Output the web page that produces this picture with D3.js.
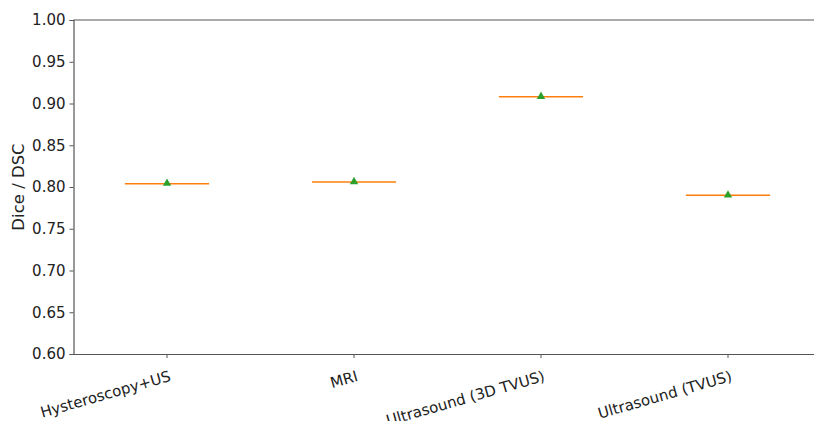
<!DOCTYPE html>
<meta charset="utf-8">
<style>
body { margin: 0; background: #fff; }
text { font-family: "DejaVu Sans", sans-serif; fill: #222; }
.axis path, .axis line { stroke: #555; }
</style>
<svg width="814" height="421"></svg>
<script src="https://d3js.org/d3.v7.min.js"></script>
<script>

var categories = ["Hysteroscopy+US", "MRI", "Ultrasound (3D TVUS)", "Ultrasound (TVUS)"];
var medians = [0.804, 0.806, 0.908, 0.790];
var means = [0.804, 0.806, 0.908, 0.790];
var yTicks = [0.60, 0.65, 0.70, 0.75, 0.80, 0.85, 0.90, 0.95, 1.00];

var svg = d3.select("svg");
var margin = {left: 73.5, top: 20, bottom: 67},
    plotW = 748,
    height = +svg.attr("height");

var x = d3.scaleBand()
    .domain(categories)
    .range([margin.left, margin.left + plotW]);

var y = d3.scaleLinear()
    .domain([0.6, 1.0])
    .range([height - margin.bottom, margin.top]);

// top spine
svg.append("line")
    .attr("x1", margin.left).attr("x2", margin.left + plotW)
    .attr("y1", y(1.0)).attr("y2", y(1.0))
    .attr("stroke", "#555").attr("stroke-width", 1.2);

var yAxis = svg.append("g")
    .attr("class", "axis")
    .attr("transform", "translate(" + margin.left + ",0)")
    .call(d3.axisLeft(y).tickValues(yTicks).tickFormat(d3.format(".2f")).tickSize(4).tickPadding(4));
yAxis.select(".domain").attr("stroke-width", 1.2);
yAxis.selectAll("text").style("font-size", "15px").attr("fill", "#222");

var xAxis = svg.append("g")
    .attr("class", "axis")
    .attr("transform", "translate(0," + y(0.6) + ")")
    .call(d3.axisBottom(x).tickSize(4).tickSizeOuter(0));
xAxis.select(".domain").attr("stroke-width", 1.2);
xAxis.selectAll("text")
    .style("font-size", "15px")
    .attr("fill", "#222")
    .attr("text-anchor", "end")
    .attr("dy", null)
    .attr("transform", "translate(2,17) rotate(-16)")
    .attr("y", 10)
    .attr("x", 0);

svg.append("text")
    .attr("transform", "translate(24," + ((y(0.6) + y(1.0)) / 2) + ") rotate(-90)")
    .attr("text-anchor", "middle")
    .style("font-size", "16.5px")
    .text("Dice / DSC");

// default matplotlib box width: 0.45 of the spacing
var boxW = x.bandwidth() * 0.45;

svg.append("g").selectAll("line")
    .data(categories)
    .enter().append("line")
    .attr("x1", function(d) { return x(d) + x.bandwidth() / 2 - boxW / 2; })
    .attr("x2", function(d) { return x(d) + x.bandwidth() / 2 + boxW / 2; })
    .attr("y1", function(d, i) { return y(medians[i]); })
    .attr("y2", function(d, i) { return y(medians[i]); })
    .attr("stroke", "#ff7f0e")
    .attr("stroke-width", 1.5);

// mean markers, '^' centred on the value
var tri = "M0,-4.2L4.2,3.2L-4.2,3.2Z";
svg.append("g").selectAll("path")
    .data(categories)
    .enter().append("path")
    .attr("d", tri)
    .attr("transform", function(d, i) {
      return "translate(" + (x(d) + x.bandwidth() / 2) + "," + (y(means[i]) - 1) + ")";
    })
    .attr("fill", "#2ca02c");

</script>
